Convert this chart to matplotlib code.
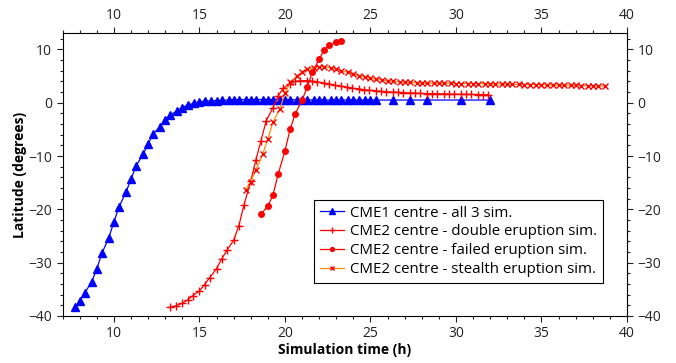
import matplotlib
matplotlib.use("Agg")
import matplotlib.pyplot as plt
from matplotlib.ticker import MultipleLocator

plt.rcParams['font.family'] = ['Open Sans', 'DejaVu Sans']

# CME1 centre (all 3 simulations)
t_cme1 = [7.7, 8.0, 8.3, 8.7, 9.0, 9.3, 9.7, 10.0, 10.3, 10.7, 11.0, 11.3, 11.7, 12.0,
          12.3, 12.7, 13.0, 13.3, 13.7, 14.0, 14.3, 14.7, 15.0, 15.3, 15.7, 16.0, 16.3,
          16.7, 17.0, 17.3, 17.7, 18.0, 18.3, 18.7, 19.0, 19.3, 19.7, 20.0, 20.3, 20.7,
          21.0, 21.3, 21.7, 22.0, 22.3, 22.7, 23.0, 23.3, 23.7, 24.0, 24.3, 24.7, 25.0,
          25.3, 26.3, 27.3, 28.3, 30.3, 32.0]
lat_cme1 = [-38.4, -37.2, -35.6, -33.6, -31.1, -28.2, -25.3, -22.3, -19.5, -16.8, -14.3,
            -11.8, -9.7, -7.7, -5.8, -4.5, -3.3, -2.3, -1.5, -0.9, -0.45, -0.1, 0.15, 0.3,
            0.35, 0.4, 0.45, 0.5, 0.55, 0.55, 0.6, 0.6, 0.6, 0.6, 0.6, 0.6, 0.6, 0.55, 0.55,
            0.55, 0.55, 0.55, 0.5, 0.5, 0.5, 0.5, 0.5, 0.5, 0.5, 0.5, 0.5, 0.5, 0.5, 0.5,
            0.5, 0.5, 0.5, 0.5, 0.5]

# CME2 centre - double eruption
t_double = [13.3, 13.6, 14.0, 14.3, 14.6, 15.0, 15.3, 15.6, 16.0, 16.3, 16.6, 17.0, 17.3,
            17.6, 18.0, 18.3, 18.6, 18.9, 19.3, 19.6, 19.9, 20.3, 20.6, 20.9, 21.3, 21.6,
            21.9, 22.3, 22.6, 22.9, 23.3, 23.6, 23.9, 24.3, 24.6, 24.9, 25.3, 25.6, 25.9,
            26.3, 26.6, 26.9, 27.3, 27.6, 27.9, 28.3, 28.6, 28.9, 29.3, 29.6, 29.9, 30.3,
            30.6, 30.9, 31.3, 31.6, 31.9]
lat_double = [-38.4, -38.1, -37.6, -37.0, -36.2, -35.3, -34.1, -32.8, -31.1, -29.3, -27.7,
              -25.8, -23.1, -19.2, -14.7, -10.7, -7.1, -3.4, -0.9, 1.3, 2.7, 3.6, 4.0, 4.1,
              4.15, 4.05, 3.9, 3.7, 3.5, 3.3, 3.1, 2.9, 2.75, 2.6, 2.45, 2.35, 2.25, 2.15,
              2.05, 2.0, 1.95, 1.9, 1.85, 1.8, 1.75, 1.72, 1.7, 1.68, 1.65, 1.63, 1.6, 1.58,
              1.56, 1.55, 1.53, 1.52, 1.5]

# CME2 centre - failed eruption
t_failed = [18.6, 19.0, 19.3, 19.6, 20.0, 20.3, 20.6, 21.0, 21.3, 21.6, 22.0, 22.3, 22.6,
            23.0, 23.3]
lat_failed = [-20.9, -19.4, -17.3, -13.4, -9.0, -5.0, -2.1, 0.5, 2.9, 5.7, 8.2, 9.9, 10.8,
              11.3, 11.6]

# CME2 centre - stealth eruption
t_stealth = [17.7, 18.0, 18.3, 18.7, 19.0, 19.3, 19.7, 20.0, 20.3, 20.7, 21.0, 21.3, 21.7,
             22.0, 22.3, 22.7, 23.0, 23.3, 23.7, 24.0, 24.3, 24.7, 25.0, 25.3, 25.7, 26.0,
             26.3, 26.7, 27.0, 27.3, 27.7, 28.0, 28.3, 28.7, 29.0, 29.3, 29.7, 30.0, 30.3,
             30.7, 31.0, 31.3, 31.7, 32.0, 32.3, 32.7, 33.0, 33.3, 33.7, 34.0, 34.3, 34.7,
             35.0, 35.3, 35.7, 36.0, 36.3, 36.7, 37.0, 37.3, 37.7, 38.0, 38.3, 38.7]
lat_stealth = [-16.3, -14.8, -12.6, -9.6, -6.8, -3.6, -1.2, 1.8, 3.8, 5.0, 5.8, 6.3, 6.6,
               6.75, 6.7, 6.55, 6.3, 6.0, 5.7, 5.4, 5.1, 4.85, 4.6, 4.4, 4.25, 4.1, 4.0,
               3.9, 3.85, 3.8, 3.75, 3.7, 3.68, 3.66, 3.65, 3.63, 3.62, 3.6, 3.6, 3.58,
               3.57, 3.55, 3.54, 3.52, 3.5, 3.48, 3.47, 3.45, 3.43, 3.41, 3.39, 3.37, 3.35,
               3.33, 3.31, 3.29, 3.27, 3.25, 3.23, 3.21, 3.19, 3.17, 3.15, 3.12]

fig = plt.figure(figsize=(6.76, 3.63), dpi=100)
ax = fig.add_axes([0.0927, 0.1295, 0.8348, 0.7785])

ax.plot(t_cme1, lat_cme1, color='#0000ff', lw=0.9, marker='^', ms=5.5,
        label='CME1 centre - all 3 sim.')
ax.plot(t_double, lat_double, color='#ff0000', lw=0.9, marker='+', ms=6, mew=1.0,
        label='CME2 centre - double eruption sim.')
ax.plot(t_failed, lat_failed, color='#ff0000', lw=0.9, marker='o', ms=4,
        label='CME2 centre - failed eruption sim.')
ax.plot(t_stealth, lat_stealth, color='#ff8c00', lw=0.9, marker='x', ms=5, mew=1.0,
        mec='#ff0000', label='CME2 centre - stealth eruption sim.')

ax.set_xlim(7, 40)
ax.set_ylim(-40, 13)
ax.xaxis.set_major_locator(MultipleLocator(5))
ax.xaxis.set_minor_locator(MultipleLocator(1))
ax.yaxis.set_major_locator(MultipleLocator(10))
ax.yaxis.set_minor_locator(MultipleLocator(2))
ax.tick_params(which='both', top=True, right=True, labeltop=True, labelright=True,
               direction='out', labelsize=10, colors='#222222', width=0.8)
ax.tick_params(which='major', length=4)
ax.tick_params(which='minor', length=2)
for s in ax.spines.values():
    s.set_linewidth(0.8)

ax.set_xlabel('Simulation time (h)', fontsize=10, fontweight='bold', labelpad=1)
ax.set_ylabel('Latitude (degrees)', fontsize=10, fontweight='bold', labelpad=1)

leg = ax.legend(loc='lower right', bbox_to_anchor=(0.9575, 0.117), fontsize=10.8,
                fancybox=False, framealpha=1, edgecolor='black', handlelength=1.6,
                labelspacing=0.25, borderpad=0.4, handletextpad=0.4, markerscale=0.7,
                borderaxespad=0)
leg.get_frame().set_linewidth(0.8)

fig.savefig('out.png', dpi=100)
